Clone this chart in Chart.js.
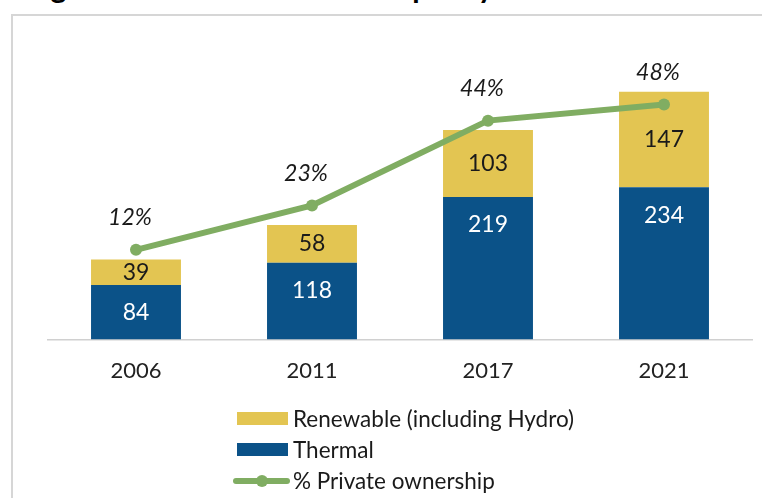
<!DOCTYPE html>
<html>
<head>
<meta charset="utf-8">
<script src="https://cdn.jsdelivr.net/npm/chart.js@4.4.1/dist/chart.umd.min.js"></script>
<style>
  body{margin:0;background:#fff;width:762px;height:498px;overflow:hidden;position:relative;font-family:Lato,"Open Sans",sans-serif;}
  #title{position:absolute;left:26px;top:-32px;font-size:30px;line-height:36px;font-weight:bold;color:#000;white-space:nowrap;}
  #frame{position:absolute;left:11px;top:14px;width:800px;height:600px;border-top:2px solid #d6d6d6;border-left:2px solid #d6d6d6;}
  #wrap{position:absolute;left:0;top:0;width:762px;height:420px;}
  #legend{position:absolute;left:233px;top:403px;font-size:22.5px;color:#1a1a1a;}
  .row{height:31px;display:flex;align-items:center;}
  .sw{width:51px;height:13px;margin-left:4px;margin-right:5px;}
  .ln{width:57px;height:6px;border-radius:3px;position:relative;margin-right:3px;}
  .ln i{position:absolute;left:23px;top:-3px;width:12px;height:12px;border-radius:6px;}
</style>
</head>
<body>
<div id="title">Figure 3: Installed Electric Capacity</div>
<div id="frame"></div>
<div id="wrap"><canvas id="myChart"></canvas></div>
<div id="legend"></div>
<script>
var years = ['2006', '2011', '2017', '2021'];
var thermal = [84, 118, 219, 234];
var renewable = [39, 58, 103, 147];
var privateShare = [12, 23, 44, 48];

var BLUE = '#0b5288', YELLOW = '#e3c552', GREEN = '#80ad62';

// value labels, placed from the drawn elements
var labelPlugin = {
    id: 'labels',
    afterDatasetsDraw: function(chart){
        var ctx = chart.ctx;
        ctx.save();
        ctx.textAlign = 'center';
        ctx.textBaseline = 'middle';
        chart.data.datasets.forEach(function(ds, i){
            var meta = chart.getDatasetMeta(i);
            meta.data.forEach(function(el, j){
                var v = ds.data[j];
                if(ds.type === 'line'){
                    ctx.font = 'italic 23px Lato';
                    ctx.fillStyle = '#1a1a1a';
                    ctx.fillText(v + '%', el.x - 6, el.y - 32);
                } else if(ds.label === 'Thermal'){
                    ctx.font = '23px Lato';
                    ctx.fillStyle = '#ffffff';
                    ctx.fillText(v, el.x, el.y + 28);
                } else {
                    ctx.font = '23px Lato';
                    ctx.fillStyle = '#1a1a1a';
                    ctx.fillText(v, el.x, (el.y + el.base) / 2);
                }
            });
        });
        ctx.restore();
    }
};

var ctx = document.getElementById('myChart').getContext('2d');
var myChart = new Chart(ctx, {
    type: 'bar',
    data: {
        labels: years,
        datasets: [
            {type: 'line', label: '% Private ownership', data: privateShare, yAxisID: 'y1', order: 0,
             borderColor: GREEN, backgroundColor: GREEN, borderWidth: 6, pointRadius: 6,
             pointBackgroundColor: GREEN, pointBorderWidth: 0, tension: 0},
            {label: 'Thermal', data: thermal, backgroundColor: BLUE, stack: 's', order: 1,
             barPercentage: 0.511, categoryPercentage: 1},
            {label: 'Renewable (including Hydro)', data: renewable, backgroundColor: YELLOW, stack: 's', order: 1,
             barPercentage: 0.511, categoryPercentage: 1}
        ]
    },
    options: {
        responsive: true,
        maintainAspectRatio: false,
        animation: false,
        layout: {padding: {left: 48, right: 10, top: 50, bottom: 26}},
        plugins: {legend: {display: false}, tooltip: {enabled: false}},
        scales: {
            x: {stacked: true, grid: {display: false},
                border: {display: true, color: '#d0d0d0', width: 1.5},
                ticks: {color: '#222', font: {family: 'Lato', size: 22}, padding: 10}},
            y: {stacked: true, display: false, min: 0, max: 445},
            y1: {display: false, min: -10.25, max: 61.5}
        }
    },
    plugins: [labelPlugin]
});

// legend, built from the datasets
var legend = document.getElementById('legend');
[2, 1, 0].forEach(function(i){
    var ds = myChart.data.datasets[i];
    var row = document.createElement('div');
    row.className = 'row';
    var mark = document.createElement('span');
    if(ds.type === 'line'){
        mark.className = 'ln';
        mark.style.background = ds.borderColor;
        var dot = document.createElement('i');
        dot.style.background = ds.borderColor;
        mark.appendChild(dot);
    } else {
        mark.className = 'sw';
        mark.style.background = ds.backgroundColor;
    }
    row.appendChild(mark);
    row.appendChild(document.createTextNode(ds.label));
    legend.appendChild(row);
});
</script>
</body>
</html>
